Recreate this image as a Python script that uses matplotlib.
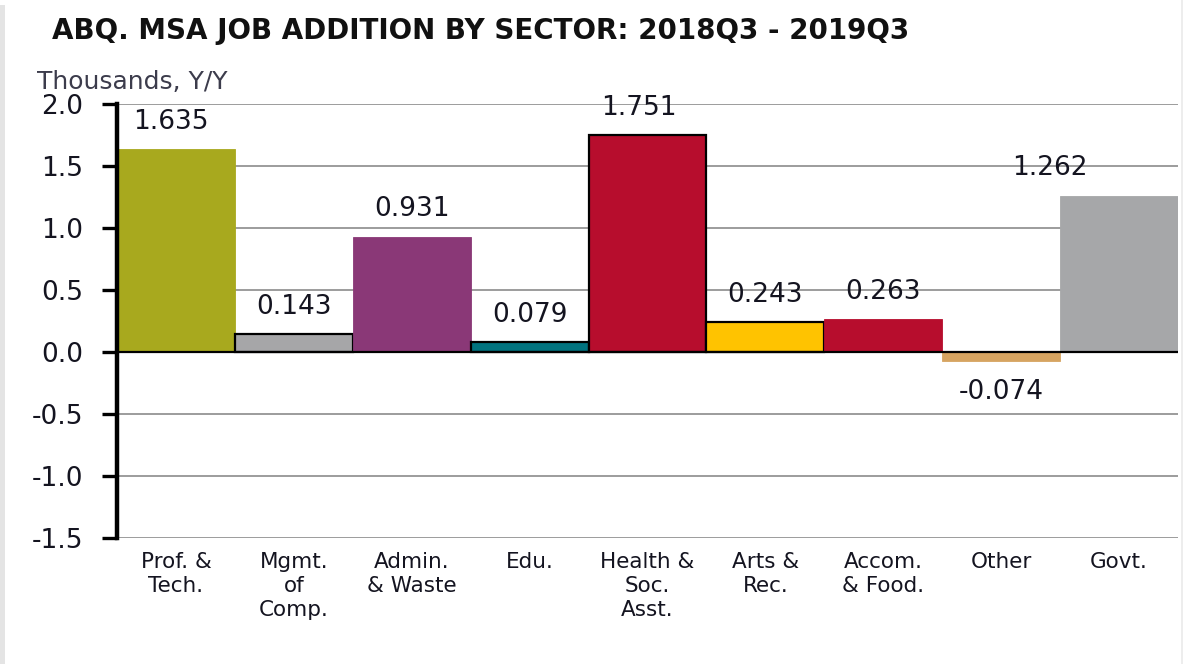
import matplotlib
matplotlib.use("Agg")
import matplotlib.pyplot as plt
from matplotlib.patches import Rectangle

# Sector data (thousands of jobs, year over year)
categories = ["Prof. &\nTech.", "Mgmt.\nof\nComp.", "Admin.\n& Waste", "Edu.",
              "Health &\nSoc.\nAsst.", "Arts &\nRec.", "Accom.\n& Food.", "Other", "Govt."]
values = [1.635, 0.143, 0.931, 0.079, 1.751, 0.243, 0.263, -0.074, 1.262]
value_labels = ["1.635", "0.143", "0.931", "0.079", "1.751", "0.243", "0.263", "-0.074", "1.262"]
yticks = [-1.5, -1.0, -0.5, 0.0, 0.5, 1.0, 1.5, 2.0]
ytick_labels = ["-1.5", "-1.0", "-0.5", "0.0", "0.5", "1.0", "1.5", "2.0"]

# Styling per bar
bar_colors = ["#A8A91E", "#A6A6A8", "#8A3877", "#00737F", "#B70D2D",
              "#FFC300", "#B70D2D", "#D6A461", "#A6A7A9"]
bar_edges = ["none", "black", "none", "black", "black", "black", "none", "none", "none"]
label_nudge_pt = [-4, 0, 0, 0, -6, 0, 0, 0, -50]

plt.rcParams["font.family"] = ["DejaVu Sans"]
text_color = "#141420"

fig = plt.figure(figsize=(11.84, 6.64), dpi=100)
ax = fig.add_axes([117 / 1184, 1 - 538 / 664, (1178 - 117) / 1184, (538 - 104) / 664])

x = list(range(len(values)))
for xi, v, c, e in zip(x, values, bar_colors, bar_edges):
    ax.bar(xi, v, width=1.0, color=c,
           edgecolor=(e if e != "none" else c),
           linewidth=(1.6 if e != "none" else 0.6), zorder=2)

ax.axhline(0, color="black", linewidth=1.6, zorder=3)

for xi, v, lab, nd in zip(x, values, value_labels, label_nudge_pt):
    if v >= 0:
        ax.annotate(lab, (xi, v), xytext=(nd, 14.5), textcoords="offset points",
                    ha="center", va="baseline", fontsize=19, color=text_color,
                    annotation_clip=False, zorder=4)
    else:
        ax.annotate(lab, (xi, v), xytext=(nd, -13), textcoords="offset points",
                    ha="center", va="top", fontsize=19, color=text_color,
                    annotation_clip=False, zorder=4)

ax.set_xlim(-0.5, len(values) - 0.5)
ax.set_ylim(-1.5, 2.0)
ax.set_yticks(yticks)
ax.set_yticklabels(ytick_labels, fontsize=19, color=text_color)
ax.set_xticks(x)
ax.set_xticklabels(categories, fontsize=15.5, color=text_color, linespacing=1.25)
ax.tick_params(axis="x", length=0, pad=10)
ax.tick_params(axis="y", length=10.5, width=2.4, color="black", pad=14, direction="out")

for yv in yticks:
    if yv != 0:
        ax.axhline(yv, color="#9C9C9C", linewidth=1.4, zorder=1)

for side in ["top", "right", "bottom"]:
    ax.spines[side].set_visible(False)
ax.spines["left"].set_linewidth(3.2)
ax.spines["left"].set_zorder(5)

fig.text(52 / 1184, 1 - 31 / 664, "ABQ. MSA JOB ADDITION BY SECTOR: 2018Q3 - 2019Q3",
         ha="left", va="center", fontsize=20, fontweight="bold", color="#111111")
fig.text(37 / 1184, 1 - 89 / 664, "Thousands, Y/Y", ha="left", va="baseline",
         fontsize=18, color="#3C3C4C")

# light frame edge on the left and right
fig.patches.append(Rectangle((0, 0), 5 / 1184, 1 - 5 / 664, transform=fig.transFigure,
                             facecolor="#E4E4E4", edgecolor="none", zorder=0))
fig.patches.append(Rectangle((1181 / 1184, 0), 2 / 1184, 1, transform=fig.transFigure,
                             facecolor="#EDEDED", edgecolor="none", zorder=0))

fig.savefig("out.png", dpi=100)
